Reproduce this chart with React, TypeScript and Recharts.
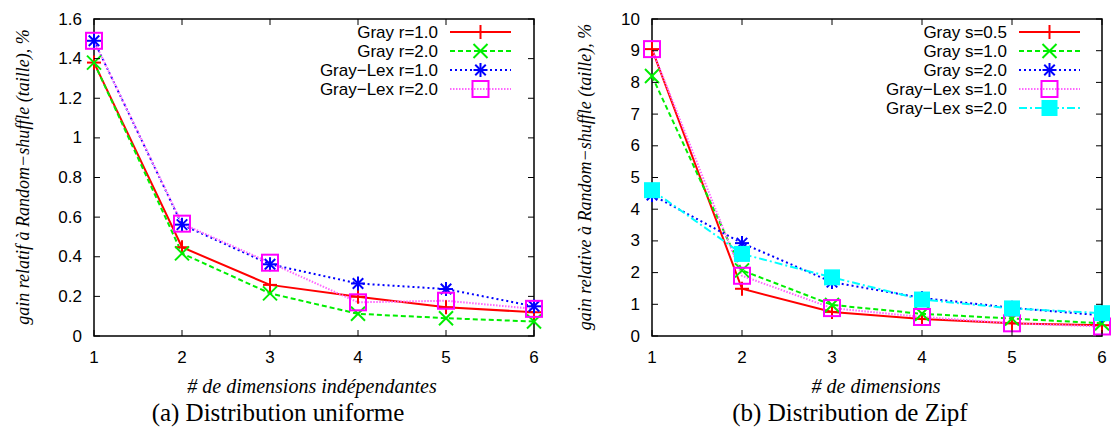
import React from 'react';
import { LineChart, Line, XAxis, YAxis, ReferenceArea, Legend } from 'recharts';

// x values shared by both panels
const dims = [1, 2, 3, 4, 5, 6];

// (a) Distribution uniforme
const grayR1 = [1.38, 0.448, 0.258, 0.198, 0.145, 0.12];
const grayR2 = [1.38, 0.417, 0.215, 0.112, 0.09, 0.073];
const lexR1 = [1.49, 0.562, 0.362, 0.265, 0.237, 0.15];
const lexR2 = [1.49, 0.567, 0.37, 0.17, 0.178, 0.137];
const uniformTicks = [0, 0.2, 0.4, 0.6, 0.8, 1, 1.2, 1.4, 1.6];

// (b) Distribution de Zipf
const grayS05 = [9.05, 1.49, 0.76, 0.54, 0.4, 0.34];
const grayS1 = [8.2, 2.07, 0.98, 0.7, 0.55, 0.4];
const grayS2 = [4.45, 2.93, 1.7, 1.2, 0.89, 0.65];
const lexS1 = [9.05, 1.9, 0.88, 0.6, 0.4, 0.3];
const lexS2 = [4.6, 2.59, 1.85, 1.15, 0.87, 0.72];
const zipfTicks = [0, 1, 2, 3, 4, 5, 6, 7, 8, 9, 10];

type MarkerKind = 'plus' | 'cross' | 'star' | 'square' | 'filled';

interface Series {
    key: string;
    name: string;
    values: number[];
    color: string;
    lineColor: string;
    dash?: string;
    marker: MarkerKind;
}

const uniformSeries: Series[] = [
    { key: 'g1', name: 'Gray r=1.0', values: grayR1, color: '#ff0000', lineColor: '#ff0000', marker: 'plus' },
    { key: 'g2', name: 'Gray r=2.0', values: grayR2, color: '#00ee00', lineColor: '#00ee00', dash: '5 3', marker: 'cross' },
    { key: 'l1', name: 'Gray\u2212Lex r=1.0', values: lexR1, color: '#0000ff', lineColor: '#0000ff', dash: '2 3', marker: 'star' },
    { key: 'l2', name: 'Gray\u2212Lex r=2.0', values: lexR2, color: '#ff00ff', lineColor: '#ff66ff', dash: '1.5 1.5', marker: 'square' },
];

const zipfSeries: Series[] = [
    { key: 'g05', name: 'Gray s=0.5', values: grayS05, color: '#ff0000', lineColor: '#ff0000', marker: 'plus' },
    { key: 'g1', name: 'Gray s=1.0', values: grayS1, color: '#00ee00', lineColor: '#00ee00', dash: '5 3', marker: 'cross' },
    { key: 'g2', name: 'Gray s=2.0', values: grayS2, color: '#0000ff', lineColor: '#0000ff', dash: '2 3', marker: 'star' },
    { key: 'l1', name: 'Gray\u2212Lex s=1.0', values: lexS1, color: '#ff00ff', lineColor: '#ff66ff', dash: '1.5 1.5', marker: 'square' },
    { key: 'l2', name: 'Gray\u2212Lex s=2.0', values: lexS2, color: '#00ffff', lineColor: '#00ffff', dash: '8 3 2 3', marker: 'filled' },
];

const sans = '"Liberation Sans", Arial, sans-serif';
const serif = '"Liberation Serif", "Times New Roman", serif';

function Marker({ kind, cx, cy, color }: { kind: MarkerKind; cx: number; cy: number; color: string }) {
    const h = 7;
    const sw = 2;
    switch (kind) {
        case 'plus':
            return (
                <g stroke={color} strokeWidth={sw}>
                    <line x1={cx - h} y1={cy} x2={cx + h} y2={cy} />
                    <line x1={cx} y1={cy - h} x2={cx} y2={cy + h} />
                </g>
            );
        case 'cross':
            return (
                <g stroke={color} strokeWidth={sw}>
                    <line x1={cx - h} y1={cy - h} x2={cx + h} y2={cy + h} />
                    <line x1={cx - h} y1={cy + h} x2={cx + h} y2={cy - h} />
                </g>
            );
        case 'star':
            return (
                <g stroke={color} strokeWidth={sw}>
                    <line x1={cx - h} y1={cy} x2={cx + h} y2={cy} />
                    <line x1={cx} y1={cy - h} x2={cx} y2={cy + h} />
                    <line x1={cx - h * 0.75} y1={cy - h * 0.75} x2={cx + h * 0.75} y2={cy + h * 0.75} />
                    <line x1={cx - h * 0.75} y1={cy + h * 0.75} x2={cx + h * 0.75} y2={cy - h * 0.75} />
                </g>
            );
        case 'square':
            return <rect x={cx - 8} y={cy - 8} width={16} height={16} fill="none" stroke={color} strokeWidth={sw} />;
        case 'filled':
            return <rect x={cx - 8} y={cy - 8} width={16} height={16} fill={color} stroke="none" />;
    }
}

interface PanelProps {
    series: Series[];
    yTicks: number[];
    yLabel: string;
    xLabel: string;
    caption: string;
    plotLeft: number;
    plotRight: number;
    yLabelX: number;
    xLabelX: number;
    captionX: number;
    legendTextX: number;
}

const W = 556;
const H = 430;
const PLOT_TOP = 19;
const PLOT_BOTTOM = 336;
const TICK = 6;

function Panel(p: PanelProps) {
    const data = dims.map((d, i) => {
        const row: Record<string, number> = { dim: d };
        p.series.forEach((s) => (row[s.key] = s.values[i]));
        return row;
    });
    const yMax = p.yTicks[p.yTicks.length - 1];

    const XTick = (t: any) => (
        <g>
            <line x1={t.x} y1={PLOT_BOTTOM} x2={t.x} y2={PLOT_BOTTOM - TICK} stroke="#000" strokeWidth={1} />
            <line x1={t.x} y1={PLOT_TOP} x2={t.x} y2={PLOT_TOP + TICK} stroke="#000" strokeWidth={1} />
            <text x={t.x} y={PLOT_BOTTOM + 21} textAnchor="middle" dominantBaseline="central" fontFamily={sans} fontSize={17} fill="#000">
                {t.payload.value}
            </text>
        </g>
    );

    const YTick = (t: any) => (
        <g>
            <line x1={p.plotLeft} y1={t.y} x2={p.plotLeft + TICK} y2={t.y} stroke="#000" strokeWidth={1} />
            <line x1={p.plotRight} y1={t.y} x2={p.plotRight - TICK} y2={t.y} stroke="#000" strokeWidth={1} />
            <text x={p.plotLeft - 12} y={t.y} textAnchor="end" dominantBaseline="central" fontFamily={sans} fontSize={17} fill="#000">
                {String(t.payload.value)}
            </text>
        </g>
    );

    const legendRows = () => (
        <svg width={W} height={130} style={{ display: 'block' }}>
            {p.series.map((s, i) => {
                const y = 32 + i * 19;
                const x0 = p.legendTextX + 12;
                const x1 = x0 + 61;
                return (
                    <g key={s.key}>
                        <text x={p.legendTextX} y={y} textAnchor="end" dominantBaseline="central" fontFamily={sans} fontSize={17} fill="#000">
                            {s.name}
                        </text>
                        <line x1={x0} y1={y} x2={x1} y2={y} stroke={s.lineColor} strokeWidth={2} strokeDasharray={s.dash} />
                        <Marker kind={s.marker} cx={(x0 + x1) / 2} cy={y} color={s.color} />
                    </g>
                );
            })}
        </svg>
    );

    return (
        <LineChart
            width={W}
            height={H}
            data={data}
            margin={{ top: PLOT_TOP, right: W - p.plotRight, bottom: H - PLOT_BOTTOM - 30, left: 0 }}
        >
            <XAxis
                dataKey="dim"
                type="number"
                domain={[1, 6]}
                ticks={dims}
                axisLine={false}
                tickLine={false}
                height={30}
                tick={XTick}
                label={{
                    content: () => (
                        <g>
                            <text x={p.xLabelX} y={386} textAnchor="middle" dominantBaseline="central" fontFamily={serif} fontStyle="italic" fontSize={20} fill="#000">
                                {p.xLabel}
                            </text>
                            <text x={p.captionX} y={412} textAnchor="middle" dominantBaseline="central" fontFamily={serif} fontSize={25} fill="#000">
                                {p.caption}
                            </text>
                        </g>
                    ),
                }}
            />
            <YAxis
                type="number"
                domain={[0, yMax]}
                ticks={p.yTicks}
                axisLine={false}
                tickLine={false}
                width={p.plotLeft}
                tick={YTick}
                label={{
                    content: () => (
                        <text
                            x={p.yLabelX}
                            y={177}
                            transform={`rotate(-90 ${p.yLabelX} 177)`}
                            textAnchor="middle"
                            dominantBaseline="central"
                            fontFamily={serif}
                            fontStyle="italic"
                            fontSize={18}
                            fill="#000"
                        >
                            {p.yLabel}
                        </text>
                    ),
                }}
            />
            <ReferenceArea x1={1} x2={6} y1={0} y2={yMax} fill="none" stroke="#000" strokeWidth={1.5} ifOverflow="visible" />
            {p.series.map((s) => (
                <Line
                    key={s.key}
                    type="linear"
                    dataKey={s.key}
                    name={s.name}
                    stroke={s.lineColor}
                    strokeWidth={2}
                    strokeDasharray={s.dash}
                    isAnimationActive={false}
                    activeDot={false}
                    dot={(d: any) => (
                        <g key={`${s.key}-${d.index}`}>
                            <Marker kind={s.marker} cx={d.cx} cy={d.cy} color={s.color} />
                        </g>
                    )}
                />
            ))}
            <Legend
                layout="vertical"
                align="center"
                verticalAlign="middle"
                wrapperStyle={{ top: 0, left: 0, width: W, height: 130 }}
                content={legendRows}
            />
        </LineChart>
    );
}

export default function App() {
    return (
        <div style={{ position: 'absolute', left: 0, top: 0, width: 1112, height: 430, background: '#fff', display: 'flex' }}>
            <Panel
                series={uniformSeries}
                yTicks={uniformTicks}
                yLabel={'gain relatif \u00e0 Random\u2212shuffle (taille), %'}
                xLabel={'# de dimensions ind\u00e9pendantes'}
                caption="(a) Distribution uniforme"
                plotLeft={94}
                plotRight={534}
                yLabelX={23}
                xLabelX={312}
                captionX={278}
                legendTextX={438}
            />
            <Panel
                series={zipfSeries}
                yTicks={zipfTicks}
                yLabel={'gain relative \u00e0 Random\u2212shuffle (taille), %'}
                xLabel="# de dimensions"
                caption="(b) Distribution de Zipf"
                plotLeft={96}
                plotRight={546}
                yLabelX={29}
                xLabelX={320}
                captionX={294}
                legendTextX={451}
            />
        </div>
    );
}
